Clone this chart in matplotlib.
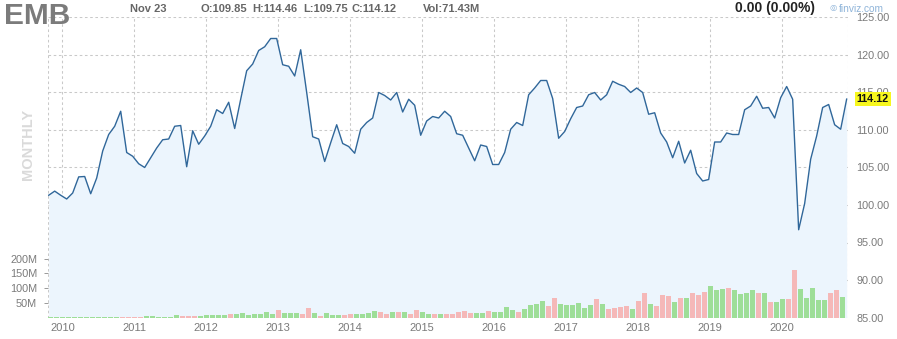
import pandas as pd
import matplotlib
matplotlib.use('Agg')
import matplotlib.pyplot as plt
from matplotlib.ticker import FuncFormatter

plt.rcParams['font.family'] = ['Liberation Sans', 'DejaVu Sans']

# monthly EMB data, Oct 2009 .. Nov 2020
first_month = '2009-10-01'
closes = [
    101.3, 101.85, 101.3, 100.8, 101.6, 103.75, 103.8, 101.5, 103.6, 107.2,
    109.4, 110.5, 112.5, 107.0, 106.5, 105.5, 105.0, 106.3, 107.6, 108.7,
    108.8, 110.5, 110.6, 105.1, 109.9, 108.1, 109.2, 110.5, 112.7, 112.2,
    113.7, 110.2, 114.1, 117.9, 118.8, 120.6, 121.1, 122.2, 122.2, 118.7,
    118.5, 117.2, 120.7, 115.0, 109.1, 108.8, 105.8, 108.3, 110.7, 108.2,
    107.8, 106.9, 110.1, 111.0, 111.6, 115.0, 114.6, 114.0, 115.0, 112.4,
    114.1, 113.3, 109.3, 111.2, 111.8, 111.6, 112.5, 111.8, 109.5, 109.3,
    107.6, 105.9, 108.0, 107.8, 105.4, 105.4, 107.0, 110.1, 111.0, 110.6,
    114.7, 115.6, 116.6, 116.6, 114.2, 108.9, 109.8, 111.5, 113.0, 113.2,
    114.7, 115.0, 114.0, 114.7, 116.5, 116.1, 115.8, 115.0, 115.6, 115.0,
    112.1, 112.3, 109.6, 108.4, 106.3, 108.5, 105.6, 107.3, 104.2, 103.2,
    103.4, 108.4, 108.4, 109.6, 109.4, 109.4, 112.7, 113.2, 114.5, 112.9,
    113.0, 111.6, 114.3, 115.8, 114.1, 96.7, 100.2, 106.1, 109.2, 113.0,
    113.4, 110.7, 110.1, 114.12,
]
# volume in millions
volumes = [
    1, 1, 1, 3, 3, 3, 3, 3, 3, 3,
    3, 3, 3, 3, 3, 3, 3, 4, 5, 3,
    3, 3, 7, 5, 5, 5, 5, 8, 8, 8,
    8, 11, 11, 15, 8, 11, 11, 18, 11, 25,
    15, 15, 15, 11, 32, 15, 5, 15, 8, 8,
    8, 11, 11, 11, 15, 21, 18, 11, 18, 18,
    18, 11, 25, 18, 11, 11, 11, 11, 12.5, 19,
    21, 15, 15, 15, 21, 18, 18, 35, 26, 18,
    28, 42, 45, 55, 38, 66, 45, 42, 42, 49,
    32, 42, 62, 45, 29, 32, 35, 38, 28, 55,
    83, 47, 38, 76, 72, 53, 67, 67, 82, 77,
    86, 107, 93, 96, 100, 93, 79, 83, 93, 83,
    83, 52, 52, 62, 62, 161, 96, 66, 100, 59,
    59, 83, 93, 69,
]
# g = up month, r = down month (10 per group)
vol_dir = ('gggggggggg' 'gggrrrrggg' 'gggrrrgggg' 'grgggggggr' 'gggrrgrggg'
           'rrggggrrgr' 'grrggrgrrr' 'rrggrggggr' 'ggggrrgggg' 'ggrgrrrrgr'
           'rgrrrgrgrr' 'rgggrggggr' 'grggrrgggg' 'grrg')
assert len(closes) == len(volumes) == len(vol_dir)

price_ticks = [85, 90, 95, 100, 105, 110, 115, 120, 125]
volume_ticks = [50, 100, 150, 200]

months = pd.date_range(first_month, periods=len(closes), freq='MS')
idx = list(range(len(closes)))
line_x = [i + 0.73 for i in idx]
jan_idx = [i for i, m in enumerate(months) if m.month == 1]
jan_lab = [str(months[i].year) for i in jan_idx]

W, H = 897, 339
fig = plt.figure(figsize=(W / 100, H / 100), dpi=100)
ax = fig.add_axes([47.5 / W, 21.5 / H, 800 / W, 300 / H])
ax2 = ax.twinx()

grid_kw = dict(color='#c9c9c9', lw=0.75, ls=(0, (2.5, 2.5)))
gray = '#7a7a7a'

# price
ax.fill_between(line_x, closes, 85, color='#ecf5fd', lw=0, zorder=1)
ax.plot(line_x, closes, color='#30679a', lw=1.0, zorder=3)
ax.set_xlim(0.53, 133.87)
ax.set_ylim(85, 125)
for p in price_ticks:
    ax.axhline(p, zorder=0, **grid_kw)
for i in jan_idx:
    ax.axvline(i, zorder=0, **grid_kw)
ax.axvline(0.53, zorder=0, **grid_kw)
ax.axvline(133.87, zorder=0, **grid_kw)
for s in ax.spines.values():
    s.set_visible(False)
ax.yaxis.tick_right()
ax.set_yticks(price_ticks)
ax.yaxis.set_major_formatter(FuncFormatter(lambda v, p: '%.2f' % v))
ax.tick_params(axis='y', length=0, pad=6.2, labelsize=7.8, labelcolor=gray)
ax.set_xticks(jan_idx)
ax.set_xticklabels(jan_lab)
ax.tick_params(axis='x', length=0, pad=4, labelsize=8, labelcolor=gray)

# volume
colors = ['#9ede98' if d == 'g' else '#f5b8b8' for d in vol_dir]
ax2.bar(idx, volumes, width=0.82, color=colors, lw=0, zorder=2)
ax2.set_ylim(0, 1020)
ax2.yaxis.tick_left()
ax2.set_yticks(volume_ticks)
ax2.set_yticklabels(['%dM' % v for v in volume_ticks])
ax2.tick_params(axis='y', length=3, width=0.7, color='#999999', pad=4.5,
                labelsize=7.8, labelcolor=gray)
for s in ax2.spines.values():
    s.set_visible(False)

ax.annotate('%.2f' % closes[-1], xy=(1, closes[-1]),
            xycoords=('axes fraction', 'data'), xytext=(6.6, 0),
            textcoords='offset points', ha='left', va='center',
            fontsize=7.8, weight='bold', color='#111111', zorder=10,
            bbox=dict(boxstyle='square,pad=0.2', fc='#f7f71e', ec='none'),
            annotation_clip=False)

# header texts
def ftext(x, y, s, **kw):
    fig.text(x / W, 1 - y / H, s, va='center', **kw)

ftext(4, 16.5, 'EMB', fontsize=21.5, weight='bold', color='#7b7b7b')
ftext(130, 8.5, 'Nov 23', fontsize=8, weight='bold', color='#666666')
ftext(200, 8.5, 'O:109.85', fontsize=8, weight='bold', color='#666666')
ftext(252, 8.5, 'H:114.46', fontsize=8, weight='bold', color='#666666')
ftext(303, 8.5, 'L:109.75', fontsize=8, weight='bold', color='#666666')
ftext(352, 8.5, 'C:114.12', fontsize=8, weight='bold', color='#666666')
ftext(423, 8.5, 'Vol:71.43M', fontsize=8, weight='bold', color='#666666')
ftext(735, 8, '0.00 (0.00%)', fontsize=10, weight='bold', color='#222222')
ftext(829, 8.5, '\u25ce', fontsize=6, color='#8fb4d9')
ftext(839, 8.5, 'finviz.com', fontsize=7.3, color='#8fb4d9')
fig.text(28 / W, 1 - 144 / H, 'MONTHLY', rotation=90, ha='center',
         va='center', fontsize=10.5, weight='bold', color='#dadada')

fig.savefig('out.png', dpi=100)
